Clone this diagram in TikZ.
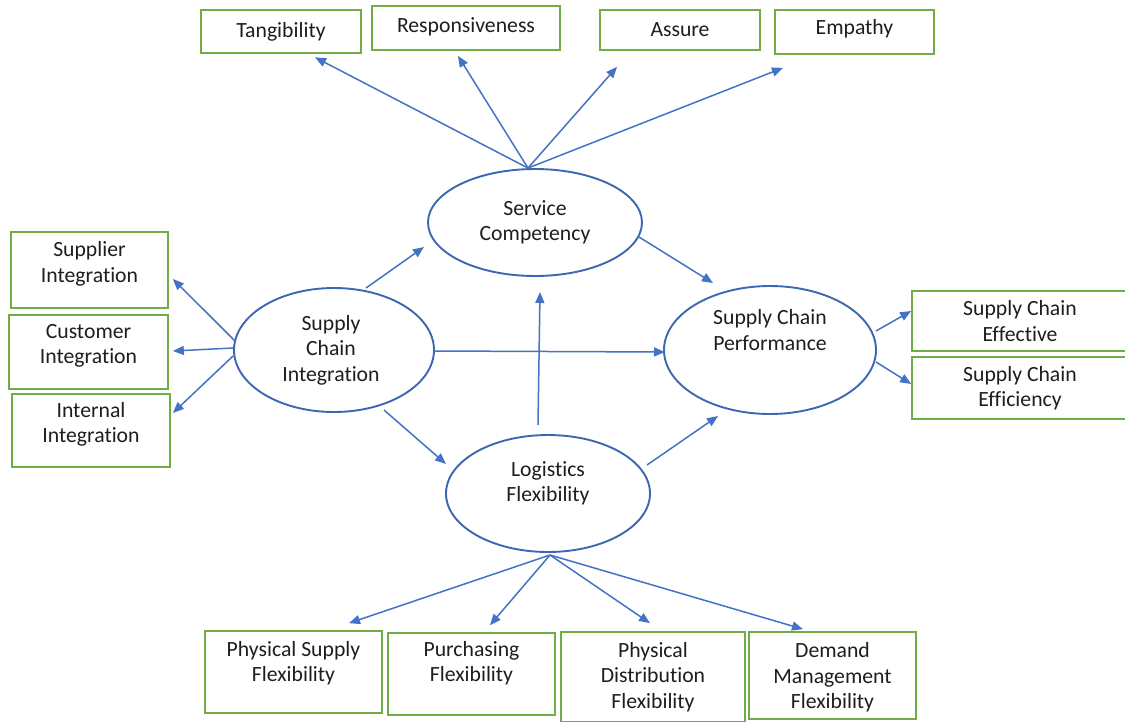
\documentclass[tikz,border=0pt]{standalone}
\usepackage{fontspec}
\setmainfont{Carlito}[RawFeature={-liga;-clig}]
\usetikzlibrary{arrows.meta,shapes.geometric,calc}
\definecolor{bgreen}{HTML}{70AD47}
\definecolor{lblue}{HTML}{4472C4}
\definecolor{eblue}{HTML}{3D67B0}
\definecolor{txt}{HTML}{1E1E1E}
\begin{document}
\begin{tikzpicture}[x=1pt,y=-1pt,
  lbl/.style={align=center, text=txt, font=\fontsize{21.7}{25.5}\selectfont, inner sep=0pt},
  box/.style={draw=bgreen, line width=1.7pt, fill=white, inner sep=0pt, rectangle},
  ell/.style={draw=eblue, line width=1.9pt, ellipse, inner sep=0pt, fill=white},
  arr/.style={draw=lblue, line width=1.5pt, -{Triangle[length=11pt,width=9pt]}},
]
\useasboundingbox (0,0) rectangle (1125,721);
\fill[white] (0,0) rectangle (1125,721);

% top boxes
\node[box, minimum width=160pt, minimum height=43pt, label={[lbl]center:Tangibility}] (tang) at (281,31.5) {};
\node[box, minimum width=188pt, minimum height=44pt, label={[lbl, yshift=1pt]center:Responsiveness}] (resp) at (466,28) {};
\node[box, minimum width=160pt, minimum height=40pt, label={[lbl]center:Assure}] (assure) at (680,30) {};
\node[box, minimum width=159pt, minimum height=44pt, label={[lbl, yshift=3pt]center:Empathy}] (emp) at (854.5,32) {};

% left boxes
\node[box, minimum width=157pt, minimum height=76pt, label={[lbl, yshift=6pt]center:Supplier\\Integration}] (supp) at (89.5,270) {};
\node[box, minimum width=159pt, minimum height=74pt, label={[lbl, yshift=6pt]center:Customer\\Integration}] (cust) at (88.5,352) {};
\node[box, minimum width=158pt, minimum height=73pt, label={[lbl, yshift=6pt]center:Internal\\Integration}] (intl) at (91,430.5) {};

% right boxes
\node[box, minimum width=216pt, minimum height=60pt, label={[lbl]center:Supply Chain\\Effective}] (eff) at (1020,321) {};
\node[box, minimum width=216pt, minimum height=62pt, label={[lbl]center:Supply Chain\\Efficiency}] (effi) at (1020,388) {};

% bottom boxes
\node[box, minimum width=177pt, minimum height=82pt, label={[lbl, yshift=9pt]center:Physical Supply\\Flexibility}] (psf) at (293.5,672) {};
\node[box, minimum width=167pt, minimum height=82pt, label={[lbl, yshift=11pt]center:Purchasing\\Flexibility}] (purch) at (471.5,674) {};
\node[box, minimum width=184pt, minimum height=90pt, label={[lbl]center:Physical\\Distribution\\Flexibility}] (pdf) at (653,677) {};
\node[box, minimum width=167pt, minimum height=87pt, label={[lbl, yshift=-2pt]center:Demand\\Management\\Flexibility}] (dmf) at (832.5,675.5) {};

% ellipses
\node[ell, minimum width=214pt, minimum height=107pt, label={[lbl]center:Service\\Competency}] (sc) at (535,222.5) {};
\node[ell, minimum width=200pt, minimum height=124pt, label={[lbl, xshift=-3pt]center:Supply\\Chain\\Integration}] (sci) at (334,350) {};
\node[ell, minimum width=212pt, minimum height=128pt, label={[lbl, yshift=20pt]center:Supply Chain\\Performance}] (scp) at (770,350) {};
\node[ell, minimum width=204pt, minimum height=117pt, label={[lbl, yshift=10pt]center:Logistics\\Flexibility}] (lf) at (548,493.5) {};

% service competency dimensions
\draw[arr] ($(sc.north)+(-7,0)$) -- ($(tang.south)+(34,3.5)$);
\draw[arr] ($(sc.north)+(-7,0)$) -- ($(resp.south)+(-8,5)$);
\draw[arr] ($(sc.north)+(-7,0)$) -- ($(assure.south)+(-63,16)$);
\draw[arr] ($(sc.north)+(-7,0)$) -- ($(emp.south)+(-71.5,13)$);

% integration dimensions
\draw[arr] ($(sci.west)+(2,-9)$) -- ($(supp.east)+(4,9)$);
\draw[arr] ($(sci.west)+(0,-2)$) -- ($(cust.east)+(4,-1)$);
\draw[arr] ($(sci.west)+(0,6)$) -- ($(intl.east)+(2,-17.5)$);

% structural paths
\draw[arr] ($(sci)+(32,-62)$) -- ($(sc)+(-111,24.5)$);
\draw[arr] ($(sci)+(100,1)$) -- ($(scp)+(-105,2)$);
\draw[arr] ($(sci)+(50,60)$) -- ($(lf)+(-102,-29.5)$);
\draw[arr] ($(lf)+(-10,-68.5)$) -- ($(sc)+(5,69.5)$);
\draw[arr] ($(sc)+(104,14.5)$) -- ($(scp)+(-57,-67)$);
\draw[arr] ($(lf)+(99,-28.5)$) -- ($(scp)+(-52,66)$);

% performance dimensions
\draw[arr] ($(scp)+(106,-19)$) -- ($(eff.west)+(0,-10)$);
\draw[arr] ($(scp)+(106,12)$) -- ($(effi.west)+(0,-4)$);

% logistics flexibility dimensions
\draw[arr] ($(lf)+(2,61.5)$) -- ($(psf.north)+(55.5,-7)$);
\draw[arr] ($(lf)+(2,61.5)$) -- ($(purch.north)+(18.5,-7)$);
\draw[arr] ($(lf)+(2,61.5)$) -- ($(pdf.north)+(-3,-8)$);
\draw[arr] ($(lf)+(2,61.5)$) -- ($(dmf.north)+(-29.5,-2)$);
\end{tikzpicture}
\end{document}
